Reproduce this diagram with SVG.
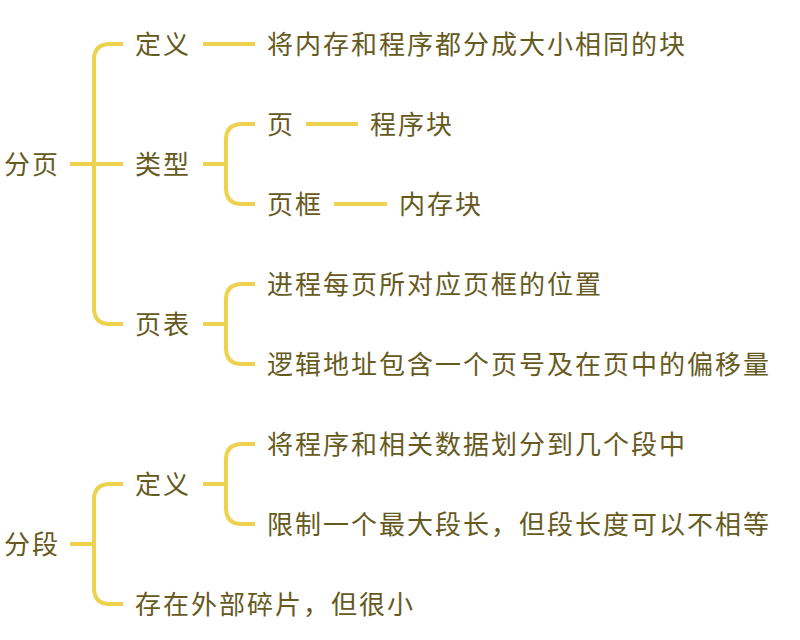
<svg xmlns="http://www.w3.org/2000/svg" width="800" height="640" viewBox="0 0 800 640">
<style>
text{font-family:"Noto Sans CJK SC","Noto Sans",sans-serif;font-size:26px;fill:#665a1e;letter-spacing:2px}
.c{fill:none;stroke:#ecd24f;stroke-width:4;stroke-linecap:butt}
</style>
<rect width="800" height="640" fill="#ffffff"/>
<g id="connectors">
<path class="c" d="M70 164H123"/>
<path class="c" d="M123 44H110Q94 44 94 60V308Q94 324 110 324H123"/>
<path class="c" d="M203 44H255"/>
<path class="c" d="M203 164H226"/>
<path class="c" d="M255 124H242Q226 124 226 140V188Q226 204 242 204H255"/>
<path class="c" d="M306 124H358"/>
<path class="c" d="M334 204H387"/>
<path class="c" d="M203 324H226"/>
<path class="c" d="M255 284H242Q226 284 226 300V348Q226 364 242 364H255"/>
<path class="c" d="M70 544H94"/>
<path class="c" d="M123 484H110Q94 484 94 500V588Q94 604 110 604H123"/>
<path class="c" d="M203 484H226"/>
<path class="c" d="M255 444H242Q226 444 226 460V508Q226 524 242 524H255"/>
</g>
<g id="n-fenye"><text x="4" y="174">分页</text></g>
<g id="n-dingyi1"><text x="135" y="54">定义</text></g>
<g id="n-dingyi1-d"><text x="267" y="54">将内存和程序都分成大小相同的块</text></g>
<g id="n-leixing"><text x="135" y="174">类型</text></g>
<g id="n-ye"><text x="267" y="134">页</text></g>
<g id="n-ye-d"><text x="370" y="134">程序块</text></g>
<g id="n-yekuang"><text x="267" y="214">页框</text></g>
<g id="n-yekuang-d"><text x="399" y="214">内存块</text></g>
<g id="n-yebiao"><text x="135" y="334">页表</text></g>
<g id="n-yebiao-1"><text x="267" y="294">进程每页所对应页框的位置</text></g>
<g id="n-yebiao-2"><text x="267" y="374">逻辑地址包含一个页号及在页中的偏移量</text></g>
<g id="n-fenduan"><text x="4" y="554">分段</text></g>
<g id="n-dingyi2"><text x="135" y="494">定义</text></g>
<g id="n-dingyi2-1"><text x="267" y="454">将程序和相关数据划分到几个段中</text></g>
<g id="n-dingyi2-2"><text x="267" y="534">限制一个最大段长，但段长度可以不相等</text></g>
<g id="n-suipian"><text x="135" y="614">存在外部碎片，但很小</text></g>
</svg>
